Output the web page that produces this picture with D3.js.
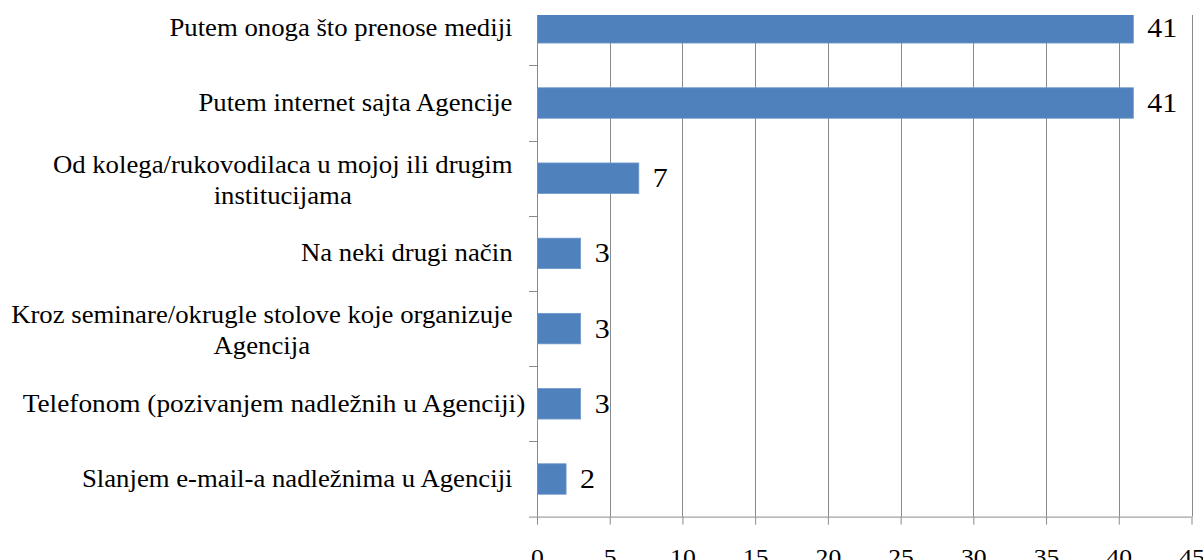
<!DOCTYPE html>
<html>
<head>
<meta charset="utf-8">
<script src="https://cdn.jsdelivr.net/npm/d3@7"></script>
<style>
  html, body { margin: 0; padding: 0; background: #fff; }
  svg { display: block; }
  text { font-family: "Liberation Serif", "Times New Roman", serif; fill: #000; }
</style>
</head>
<body>
<svg id="chart" width="1203" height="560"></svg>
<script>
// ---- data ----
const categories = [
  "Putem onoga što prenose mediji",
  "Putem internet sajta Agencije",
  "Od kolega/rukovodilaca u mojoj ili drugim|institucijama",
  "Na neki drugi način",
  "Kroz seminare/okrugle stolove koje organizuje|Agencija",
  "Telefonom (pozivanjem nadležnih u Agenciji)",
  "Slanjem e-mail-a nadležnima u Agenciji"
];
const values = [41, 41, 7, 3, 3, 3, 2];
const xTicks = [0, 5, 10, 15, 20, 25, 30, 35, 40, 45];

// ---- layout ----
const plot = { left: 537, right: 1191.5, top: 15, bottom: 516.6 };
const step = 75.2;
const stretch = 1.07;
const svg = d3.select("#chart");

const x = d3.scaleLinear().domain([0, 45]).range([plot.left, plot.right]);
const y = d3.scaleBand()
  .domain(categories)
  .range([plot.bottom - step * categories.length, plot.bottom])
  .paddingInner(0.595)
  .paddingOuter(0.2975);

const gridColor = "#8a8a8a";

// clip
svg.append("defs").append("clipPath").attr("id", "clip")
  .append("rect").attr("x", plot.left).attr("y", plot.top)
  .attr("width", plot.right - plot.left + 1).attr("height", plot.bottom - plot.top);

// gridlines
svg.append("g").selectAll("line").data(xTicks.filter(d => d > 0)).join("line")
  .attr("x1", d => Math.round(x(d)) + 0.5).attr("x2", d => Math.round(x(d)) + 0.5)
  .attr("y1", plot.top).attr("y2", plot.bottom)
  .attr("stroke", gridColor).attr("stroke-width", 1);

// bars
svg.append("g").attr("clip-path", "url(#clip)")
  .selectAll("rect").data(values).join("rect")
  .attr("x", plot.left)
  .attr("y", (d, i) => y(categories[i]))
  .attr("width", d => x(d) - x(0))
  .attr("height", y.bandwidth())
  .attr("fill", "#4F81BD")
  .attr("stroke", "#6f97c9").attr("stroke-width", 0.8);

// y axis line + band boundary ticks
svg.append("line")
  .attr("x1", plot.left + 0.5).attr("x2", plot.left + 0.5)
  .attr("y1", plot.top).attr("y2", plot.bottom)
  .attr("stroke", gridColor);
const boundaries = categories.slice(1).map(c => y(c) - y.step() * y.paddingInner() / 2);
svg.append("g").selectAll("line").data(boundaries).join("line")
  .attr("x1", plot.left - 8).attr("x2", plot.left)
  .attr("y1", d => Math.round(d) + 0.5).attr("y2", d => Math.round(d) + 0.5)
  .attr("stroke", gridColor);

// x axis
const xAxis = d3.axisBottom(x).tickValues(xTicks).tickSize(8).tickPadding(0).tickFormat(d3.format("d"));
const gx = svg.append("g").attr("transform", `translate(0,${plot.bottom})`).call(xAxis);
gx.select(".domain").attr("stroke", gridColor).attr("d", `M${plot.left - 8},0.5H${plot.right}`);
gx.selectAll(".tick line").attr("stroke", gridColor);
gx.selectAll(".tick text")
  .attr("y", 48).attr("dy", 0)
  .attr("font-size", 24)
  .attr("fill", "#000")
  .attr("x", 0)
  .attr("style", `transform: scaleX(${stretch}); transform-origin: 0px 0px;`);

// category labels
const labelRight = 512.5;
const lg = svg.append("g");
categories.forEach((c, i) => {
  const lines = c.split("|");
  const cy = y(c) + y.bandwidth() / 2;
  if (lines.length === 1) {
    const g = lg.append("g").attr("transform", `translate(${labelRight},${cy + 8}) scale(${stretch},1)`);
    const t = g.append("text").attr("text-anchor", "end").attr("font-size", 25).text(lines[0]);
    const w = t.node().getComputedTextLength() * stretch;
    if (w > 470) {
      // long labels overflow: centred in the label box
      g.attr("transform", `translate(${274},${cy + 8}) scale(${stretch * 1.02},1)`);
      t.attr("text-anchor", "middle");
    }
  } else {
    const g1 = lg.append("g").attr("transform", `translate(${labelRight},${cy - 5.5}) scale(${stretch},1)`);
    const t1 = g1.append("text").attr("text-anchor", "end").attr("font-size", 25).text(lines[0]);
    const w = t1.node().getComputedTextLength() * stretch;
    const center = labelRight - w / 2;
    lg.append("g").attr("transform", `translate(${center},${cy + 25.5}) scale(${stretch},1)`)
      .append("text").attr("text-anchor", "middle").attr("font-size", 25).text(lines[1]);
  }
});

// value labels
svg.append("g").selectAll("g").data(values).join("g")
  .attr("transform", (d, i) => `translate(${x(d) + 14},${y(categories[i]) + y.bandwidth() / 2 + 9}) scale(${stretch},1)`)
  .append("text").attr("font-size", 28).text(d => d);
</script>
</body>
</html>
